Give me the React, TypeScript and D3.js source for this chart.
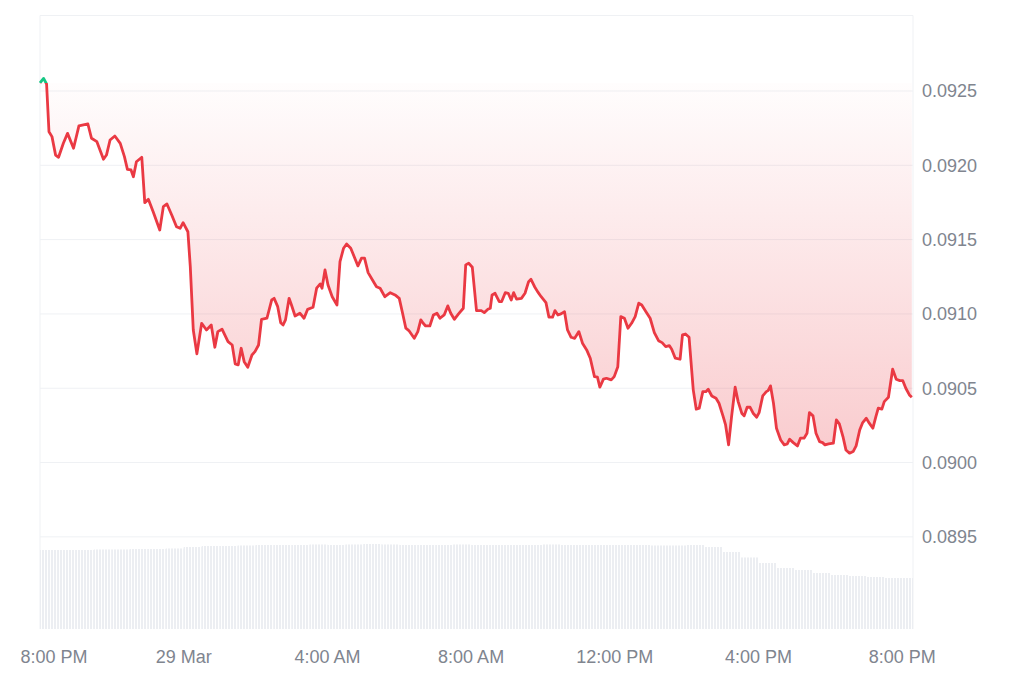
import React from 'react';
import * as d3 from 'd3';

// minutes after 8:00 PM (28 Mar), price in USD
const PRICE_POINTS: [number, number][] = [
  [0, 0.092554], [6, 0.092585], [11, 0.092547], [15, 0.092226], [20, 0.092193], [26, 0.092069], [31, 0.092054], [39, 0.092148],
  [46, 0.092215], [56, 0.092115], [65, 0.092265], [80, 0.092278], [86, 0.092182], [95, 0.092159], [106, 0.092041], [111, 0.092069],
  [117, 0.09217], [125, 0.092197], [134, 0.092148], [141, 0.092058], [146, 0.091973], [152, 0.091969], [156, 0.091923], [161, 0.092024],
  [170, 0.092054], [175, 0.091749], [181, 0.091771], [189, 0.091688], [200, 0.091565], [206, 0.091722], [212, 0.09174], [220, 0.091666],
  [228, 0.091587], [234, 0.091576], [239, 0.091614], [247, 0.091553], [251, 0.091318], [256, 0.090892], [262, 0.090731], [270, 0.090937],
  [278, 0.090892], [286, 0.090926], [292, 0.090776], [297, 0.090881], [304, 0.090897], [314, 0.090814], [321, 0.090791], [326, 0.090664],
  [331, 0.090657], [336, 0.090769], [341, 0.090679], [347, 0.090641], [354, 0.090724], [359, 0.090746], [365, 0.090791], [370, 0.090964],
  [379, 0.090971], [387, 0.091094], [391, 0.091105], [397, 0.091049], [402, 0.090941], [406, 0.090926], [410, 0.09096], [416, 0.091105],
  [420, 0.09106], [426, 0.090986], [434, 0.091005], [441, 0.090971], [447, 0.091031], [456, 0.091045], [462, 0.091173], [468, 0.091202],
  [471, 0.091173], [476, 0.091296], [481, 0.091195], [488, 0.091116], [496, 0.09106], [501, 0.091352], [507, 0.091442], [512, 0.091471],
  [519, 0.091442], [531, 0.091323], [537, 0.091375], [542, 0.091375], [548, 0.091278], [557, 0.091217], [562, 0.091183], [568, 0.091173],
  [576, 0.091116], [585, 0.091143], [593, 0.091128], [600, 0.091105], [605, 0.091015], [611, 0.090904], [616, 0.090888], [625, 0.090836],
  [631, 0.090881], [636, 0.09096], [640, 0.090937], [644, 0.090919], [651, 0.090919], [657, 0.090993], [663, 0.091005], [668, 0.090971],
  [675, 0.090993], [681, 0.091054], [686, 0.091005], [692, 0.090964], [699, 0.091], [707, 0.091038], [711, 0.09133], [716, 0.091341],
  [722, 0.091314], [729, 0.091022], [737, 0.091022], [742, 0.091009], [748, 0.091031], [752, 0.091038], [755, 0.091128], [760, 0.091139],
  [767, 0.091083], [771, 0.091083], [777, 0.091143], [782, 0.091139], [787, 0.091094], [791, 0.091143], [796, 0.091099], [804, 0.091105],
  [810, 0.091139], [816, 0.091217], [820, 0.091233], [826, 0.091183], [831, 0.09115], [837, 0.091116], [845, 0.091076], [850, 0.090978],
  [856, 0.090978], [860, 0.091022], [865, 0.090993], [870, 0.091], [876, 0.091015], [881, 0.090892], [887, 0.090843], [893, 0.090836],
  [900, 0.090881], [906, 0.090803], [913, 0.090758], [919, 0.090702], [926, 0.090578], [931, 0.090574], [935, 0.090507], [941, 0.090561],
  [946, 0.090567], [954, 0.090556], [959, 0.090578], [965, 0.090645], [970, 0.090982], [976, 0.090971], [982, 0.090904], [988, 0.090937],
  [994, 0.090982], [1000, 0.091072], [1005, 0.09106], [1012, 0.091015], [1019, 0.090971], [1026, 0.090874], [1033, 0.09082], [1039, 0.090807],
  [1045, 0.09078], [1051, 0.090787], [1055, 0.090762], [1061, 0.090702], [1069, 0.090695], [1073, 0.090859], [1078, 0.090865], [1084, 0.090843],
  [1091, 0.090489], [1096, 0.090359], [1101, 0.090366], [1107, 0.090477], [1112, 0.090477], [1116, 0.090493], [1122, 0.090448], [1129, 0.090433],
  [1134, 0.090399], [1141, 0.090309], [1145, 0.090253], [1150, 0.090119], [1155, 0.090309], [1161, 0.090507], [1166, 0.09041], [1172, 0.090332],
  [1176, 0.090314], [1181, 0.090372], [1186, 0.090372], [1191, 0.090332], [1197, 0.090305], [1201, 0.090336], [1207, 0.090448], [1213, 0.090477],
  [1216, 0.090484], [1220, 0.090516], [1225, 0.090399], [1230, 0.090231], [1237, 0.090152], [1243, 0.090119], [1248, 0.090125], [1252, 0.090157],
  [1258, 0.090134], [1265, 0.090112], [1270, 0.090164], [1276, 0.090164], [1281, 0.090197], [1285, 0.090336], [1291, 0.090314], [1296, 0.090197],
  [1302, 0.090141], [1307, 0.090134], [1311, 0.090119], [1317, 0.090125], [1325, 0.09013], [1330, 0.090287], [1335, 0.09026], [1341, 0.090175],
  [1346, 0.090085], [1352, 0.090063], [1358, 0.090074], [1363, 0.090112], [1369, 0.090219], [1374, 0.090269], [1380, 0.090298], [1385, 0.090265],
  [1391, 0.090231], [1396, 0.090309], [1400, 0.090366], [1406, 0.090359], [1410, 0.09041], [1417, 0.090439], [1424, 0.090628], [1430, 0.090561],
  [1436, 0.090551], [1441, 0.090551], [1446, 0.0905], [1452, 0.090455], [1456, 0.090439],
];

// rolling volume per half hour (arbitrary M units), starting 8:00 PM
const VOLUME_HALF_HOUR = [
  79, 79, 79, 79.5, 79.5, 80, 80, 80.5, 82, 83, 83, 83.5, 84,
  84, 84, 84.5, 84, 84.5, 85, 84.5, 84, 84, 84, 84.5, 84, 84, 84, 84, 84.5, 84, 84, 84, 84, 84, 83.5, 83.5, 84,
  82, 77, 71.5, 66, 61, 59, 56, 54, 53, 52, 51, 51,
];

const Y_TICKS = [0.0895, 0.09, 0.0905, 0.091, 0.0915, 0.092, 0.0925];
const X_TICK_HOURS = [0, 4, 8, 12, 16, 20, 24];
const X_TICK_LABELS = ['8:00 PM', '29 Mar', '4:00 AM', '8:00 AM', '12:00 PM', '4:00 PM', '8:00 PM'];

const BASELINE_PRICE = PRICE_POINTS[0][1];
const START = new Date(2025, 2, 28, 20, 0);
const END_MINUTES = 1458;

const W = 1024;
const H = 683;
const LEFT = 40;
const RIGHT = 913;
const TOP = 15.5;
const BOTTOM = 629;

const RED = '#ea3943';
const GREEN = '#16c784';
const GRID = '#eff1f4';
const TEXT = '#80858f';

const at = (m: number) => new Date(START.getTime() + m * 60000);

export default function App() {
  const x = d3.scaleTime().domain([START, at(END_MINUTES)]).range([LEFT, RIGHT]);
  const y = d3.scaleLinear().domain([0.08888, 0.093008]).range([BOTTOM, TOP]);
  const vy = d3.scaleLinear().domain([0, 100]).range([BOTTOM, BOTTOM - 100]);

  const baseY = y(BASELINE_PRICE);
  const minY = y(d3.min(PRICE_POINTS, d => d[1]) as number);

  const line = d3.line<[number, number]>()
    .x(d => x(at(d[0])))
    .y(d => y(d[1]));
  const area = d3.area<[number, number]>()
    .x(d => x(at(d[0])))
    .y0(baseY)
    .y1(d => y(d[1]));

  const linePath = line(PRICE_POINTS) || '';
  const areaPath = area(PRICE_POINTS) || '';

  return (
    <svg width={W} height={H} style={{ position: 'absolute', left: 0, top: 0, display: 'block', background: '#fff' }}
      fontFamily="'Liberation Sans', Arial, sans-serif">
      <defs>
        <clipPath id="below"><rect x={0} y={baseY} width={W} height={H - baseY} /></clipPath>
        <clipPath id="above"><rect x={0} y={0} width={W} height={baseY} /></clipPath>
        <linearGradient id="redFill" gradientUnits="userSpaceOnUse" x1={0} y1={baseY} x2={0} y2={minY}>
          <stop offset="0%" stopColor={RED} stopOpacity={0.01} />
          <stop offset="100%" stopColor={RED} stopOpacity={0.26} />
        </linearGradient>
        <linearGradient id="greenFill" gradientUnits="userSpaceOnUse" x1={0} y1={baseY} x2={0} y2={TOP}>
          <stop offset="0%" stopColor={GREEN} stopOpacity={0.01} />
          <stop offset="100%" stopColor={GREEN} stopOpacity={0.2} />
        </linearGradient>
        <pattern id="volStripes" patternUnits="userSpaceOnUse" width={3} height={10}>
          <rect x={0} y={0} width={2} height={10} fill="#eceef2" />
        </pattern>
      </defs>

      {/* frame */}
      <line x1={LEFT} x2={RIGHT} y1={TOP} y2={TOP} stroke={GRID} />
      <line x1={LEFT} x2={LEFT} y1={TOP} y2={BOTTOM} stroke={GRID} />
      <line x1={RIGHT} x2={RIGHT} y1={TOP} y2={BOTTOM} stroke={GRID} />

      {/* grid + y labels */}
      {Y_TICKS.map(t => (
        <g key={t}>
          <line x1={LEFT} x2={RIGHT} y1={y(t)} y2={y(t)} stroke={GRID} />
          <text x={922} y={y(t)} dy="0.35em" fontSize={18} fill={TEXT}>{t.toFixed(4)}</text>
        </g>
      ))}

      {/* volume */}
      {VOLUME_HALF_HOUR.map((v, i) => {
        const x0 = x(at(i * 30));
        const x1 = Math.min(x(at(i * 30 + 30)), RIGHT);
        return <rect key={i} x={x0} y={vy(v)} width={Math.max(0, x1 - x0)} height={vy(0) - vy(v)} fill="url(#volStripes)" />;
      })}

      {/* baseline area */}
      <path d={areaPath} fill="url(#redFill)" clipPath="url(#below)" />
      <path d={areaPath} fill="url(#greenFill)" clipPath="url(#above)" />

      {/* price line */}
      <path d={linePath} fill="none" stroke={RED} strokeWidth={2.8} strokeLinejoin="round" clipPath="url(#below)" />
      <path d={linePath} fill="none" stroke={GREEN} strokeWidth={2.8} strokeLinejoin="round" clipPath="url(#above)" />

      {/* x labels */}
      {X_TICK_HOURS.map((h, i) => (
        <text key={i} x={x(at(h * 60)) + (i === 0 ? 14 : 0)} y={657} dy="0.35em" textAnchor="middle" fontSize={18} fill={TEXT}>
          {X_TICK_LABELS[i]}
        </text>
      ))}
    </svg>
  );
}
